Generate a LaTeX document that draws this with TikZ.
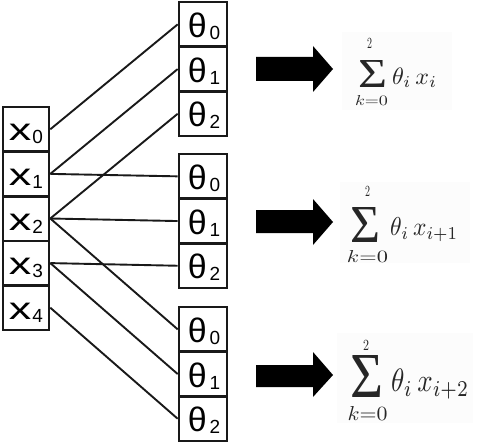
\documentclass[tikz,border=0pt]{standalone}
\usepackage{fontspec}
\usepackage{graphicx}
\setmainfont{Liberation Sans}
\newfontfamily\sigfont{Liberation Serif}
\newcommand\xlab[1]{\scalebox{1.45}[1]{\fontsize{31}{31}\selectfont x}\hspace{1pt}\raisebox{-3pt}{\fontsize{19}{19}\selectfont #1}}
\newcommand\tlab[1]{\hspace{2pt}{\fontsize{34}{34}\selectfont θ}\hspace{3pt}\raisebox{-2pt}{\fontsize{19}{19}\selectfont #1}}
\newcommand\fit[3]{\resizebox*{#1pt}{#2pt}{$#3$}}
\newcommand\sig[2]{\resizebox*{#1pt}{#2pt}{\sigfont Σ}}
\tikzset{
  box/.style={draw=black!90, line width=2.6pt, inner sep=0pt, text depth=0pt},
  xbox/.style={box, minimum width=46pt, minimum height=44.6pt, text height=23pt},
  tbox/.style={box, minimum width=48pt, minimum height=44.7pt, text height=26pt},
  link/.style={line width=1.9pt, black!90},
  bigarrow/.style={fill=black},
  fpart/.style={inner sep=0pt, text=black!85},
  fbg/.style={fill=black!1}
}
\begin{document}
\begin{tikzpicture}[x=1pt,y=-1pt]
\useasboundingbox (0,0) rectangle (480,444);
% faint formula backgrounds
\fill[fbg] (342,32) rectangle (452,110);
\fill[fbg] (340,182) rectangle (470,263);
\fill[fbg] (337,333) rectangle (473,423);
% x boxes
\foreach \i in {0,...,4}{
  \node[xbox] (x\i) at (26,{107+44.6*(\i+0.5)}) {\xlab{\i}};
}
% theta boxes
\foreach \g/\top in {a/2,b/154,c/307}{
  \foreach \j in {0,1,2}{
    \node[tbox] (\g\j) at (203,{\top+44.7*(\j+0.5)}) {\tlab{\j}};
  }
}
% connectors
\draw[link] (x0.east) -- (a0.west);
\draw[link] (x1.east) -- (a1.west);
\draw[link] (x2.east) -- (a2.west);
\draw[link] (x1.east) -- (b0.west);
\draw[link] (x2.east) -- (b1.west);
\draw[link] (x3.east) -- (b2.west);
\draw[link] (x2.east) -- (c0.west);
\draw[link] (x3.east) -- (c1.west);
\draw[link] (x4.east) -- (c2.west);
% arrows
\fill[bigarrow] (256,57) -- (313,57) -- (313,46) -- (333,69) -- (313,92) -- (313,81) -- (256,81) -- cycle;
\fill[bigarrow] (256,210) -- (313,210) -- (313,199) -- (333,222) -- (313,245) -- (313,233) -- (256,233) -- cycle;
\fill[bigarrow] (256,365) -- (313,365) -- (313,352) -- (333,375) -- (313,397) -- (313,387) -- (256,387) -- cycle;
% formula 1
\node[fpart] (s1) at (372.5,73.5) {\sig{29}{27}};
\node[fpart] (u1) at (369.5,43.5) {\fit{5}{10}{2}};
\node[fpart] (l1) at (371.5,100.5) {\fit{33}{10}{k{=}0}};
\node[fpart, anchor=west] (r1) at (392,78) {\fit{45}{20}{\theta_i\,x_i}};
% formula 2
\node[fpart] (s2) at (365,224.5) {\sig{30}{35}};
\node[fpart] (u2) at (367.5,191.5) {\fit{5}{10}{2}};
\node[fpart] (l2) at (367.5,256.5) {\fit{41}{12}{k{=}0}};
\node[fpart, anchor=west] (r2) at (390,230) {\fit{68}{24}{\theta_i\,x_{i+1}}};
% formula 3
\node[fpart] (s3) at (366.5,376.5) {\sig{33}{42}};
\node[fpart] (u3) at (366,345) {\fit{6}{10}{2}};
\node[fpart] (l3) at (367.5,413) {\fit{40}{14}{k{=}0}};
\node[fpart, anchor=west] (r3) at (391,384) {\fit{78}{30}{\theta_i\,x_{i+2}}};
\end{tikzpicture}
\end{document}
